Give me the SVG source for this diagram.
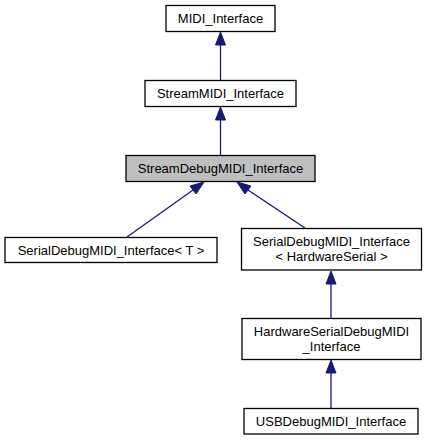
<svg xmlns="http://www.w3.org/2000/svg" width="427" height="440" viewBox="0 0 427 440">
<style>
.box{fill:#ffffff;stroke:#000000;stroke-width:1.3}
.sel{fill:#bfbfbf;stroke:#000000;stroke-width:1.3}
text{font-family:"Liberation Sans",Arial,sans-serif;font-size:13px;fill:#000000;text-anchor:middle}
.edge{stroke:#191970;stroke-width:1.3;fill:none}
.head{fill:#191970;stroke:#191970;stroke-width:1}
</style>
<rect width="427" height="440" fill="#ffffff"/>
<g id="edges">
<line class="edge" x1="220.5" y1="45" x2="220.5" y2="80"/>
<polygon class="head" points="220.5,32 215.5,45 225.5,45"/>
<line class="edge" x1="220.5" y1="120" x2="220.5" y2="155"/>
<polygon class="head" points="220.5,107 215.5,120 225.5,120"/>
<line class="edge" x1="127" y1="237" x2="193" y2="190"/>
<polygon class="head" points="204,182 190,186 196,194"/>
<line class="edge" x1="305" y1="228" x2="248" y2="190"/>
<polygon class="head" points="237,182 245,194 251,186"/>
<line class="edge" x1="331" y1="284" x2="331" y2="318"/>
<polygon class="head" points="331,271 326,284 336,284"/>
<line class="edge" x1="331" y1="373" x2="331" y2="408"/>
<polygon class="head" points="331,360 326,373 336,373"/>
</g>
<g id="MIDI_Interface">
<rect class="box" x="166" y="5.5" width="109" height="26"/>
<text x="220.5" y="23">MIDI_Interface</text>
</g>
<g id="StreamMIDI_Interface">
<rect class="box" x="145" y="80.5" width="151" height="26"/>
<text x="220.5" y="98">StreamMIDI_Interface</text>
</g>
<g id="StreamDebugMIDI_Interface">
<rect class="sel" x="126" y="155.5" width="189" height="26"/>
<text x="220.5" y="173">StreamDebugMIDI_Interface</text>
</g>
<g id="SerialDebugMIDI_Interface_T">
<rect class="box" x="5" y="237.5" width="212" height="25"/>
<text x="111" y="254.5">SerialDebugMIDI_Interface&lt; T &gt;</text>
</g>
<g id="SerialDebugMIDI_Interface_HardwareSerial">
<rect class="box" x="241.5" y="228.5" width="180" height="41.5"/>
<text x="331.5" y="246">SerialDebugMIDI_Interface</text>
<text x="331.5" y="261">&lt; HardwareSerial &gt;</text>
</g>
<g id="HardwareSerialDebugMIDI_Interface">
<rect class="box" x="242" y="318.5" width="179" height="41"/>
<text x="331.5" y="336">HardwareSerialDebugMIDI</text>
<text x="331.5" y="351">_Interface</text>
</g>
<g id="USBDebugMIDI_Interface">
<rect class="box" x="244" y="408.5" width="174" height="25.5"/>
<text x="331" y="426">USBDebugMIDI_Interface</text>
</g>
</svg>
